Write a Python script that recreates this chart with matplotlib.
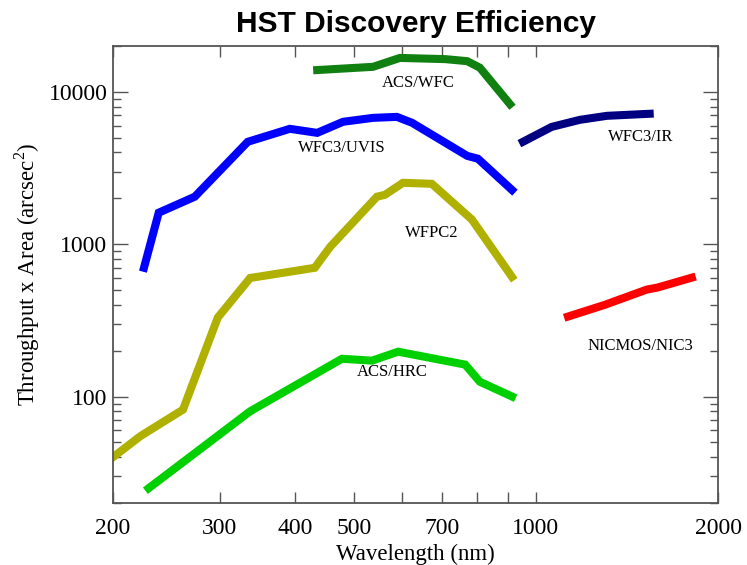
import matplotlib
matplotlib.use("Agg")
import matplotlib.pyplot as plt
from matplotlib.ticker import FixedLocator, FixedFormatter, LogLocator, NullFormatter

# Throughput x area curves (wavelength in nm, arcsec^2)
acs_wfc_wl = [435, 538, 596, 708, 770, 808, 906]
acs_wfc_val = [13900, 14600, 16700, 16400, 15900, 14400, 8300]

uvis_wl = [225, 238, 273, 334, 392, 435, 480, 538, 589, 624, 770, 802, 913]
uvis_val = [700, 1610, 2050, 4700, 5720, 5380, 6360, 6750, 6850, 6270, 3800, 3640, 2270]

wfpc2_wl = [200, 222, 261, 298, 337, 431, 457, 546, 563, 603, 673, 784, 913]
wfpc2_val = [40, 55, 82, 330, 600, 700, 960, 2050, 2110, 2530, 2490, 1450, 610]

hrc_wl = [229, 337, 478, 536, 592, 764, 808, 913]
hrc_val = [25, 80, 177, 172, 197, 162, 125, 100]

ir_wl = [952, 1062, 1182, 1310, 1542]
ir_val = [4700, 5890, 6550, 6960, 7180]

nic3_wl = [1130, 1300, 1526, 1588, 1810]
nic3_val = [335, 400, 504, 519, 603]

# label name, x, y
labels = [
    ("ACS/WFC", 639, 11500),
    ("WFC3/UVIS", 478, 4300),
    ("WFPC2", 673, 1190),
    ("ACS/HRC", 578, 144),
    ("WFC3/IR", 1489, 5070),
    ("NICMOS/NIC3", 1489, 216),
]

plt.rcParams["font.family"] = ["Liberation Serif", "DejaVu Serif"]
plt.rcParams["mathtext.fontset"] = "custom"
plt.rcParams["mathtext.rm"] = "Liberation Serif"

fig = plt.figure(figsize=(7.47, 5.65), dpi=100)
ax = fig.add_axes([0.1513, 0.1097, 0.8099, 0.8089])

lw = 5.8
ax.plot(acs_wfc_wl, acs_wfc_val, color="#108010", lw=lw, solid_joinstyle="miter")
ax.plot(uvis_wl, uvis_val, color="#0000ff", lw=lw, solid_joinstyle="miter")
ax.plot(wfpc2_wl, wfpc2_val, color="#b0b000", lw=lw, solid_joinstyle="miter")
ax.plot(hrc_wl, hrc_val, color="#00d000", lw=lw, solid_joinstyle="miter")
ax.plot(ir_wl, ir_val, color="#000080", lw=lw, solid_joinstyle="miter")
ax.plot(nic3_wl, nic3_val, color="#ff0000", lw=lw, solid_joinstyle="miter")

for name, x, y in labels:
    ax.text(x, y, name, fontsize=12, ha="center", va="center")

ax.set_xscale("log")
ax.set_yscale("log")
ax.set_xlim(200, 2000)
ax.set_ylim(20, 20000)

# x ticks every 100 nm up to 1000, plus 2000
xt = [200, 300, 400, 500, 600, 700, 800, 900, 1000, 2000]
xl = ["200", "300", "400", "500", "", "700", "", "", "1000", "2000"]
ax.xaxis.set_major_locator(FixedLocator(xt))
ax.xaxis.set_major_formatter(FixedFormatter(xl))
ax.xaxis.set_minor_locator(FixedLocator([]))

ax.yaxis.set_major_locator(FixedLocator([100, 1000, 10000]))
ax.yaxis.set_major_formatter(FixedFormatter(["100", "1000", "10000"]))
ax.yaxis.set_minor_locator(LogLocator(base=10, subs=range(2, 10)))
ax.yaxis.set_minor_formatter(NullFormatter())

ax.tick_params(axis="x", which="major", direction="in", length=8, width=1,
               top=True, labelsize=17, pad=11, color="#555555")
ax.tick_params(axis="y", which="major", direction="in", length=11, width=1,
               right=True, labelsize=17, pad=4, color="#555555")
ax.tick_params(axis="y", which="minor", direction="in", length=6, width=1,
               right=True, color="#555555")

for s in ax.spines.values():
    s.set_color("#555555")
    s.set_linewidth(1.3)

ax.set_xlabel("Wavelength (nm)", fontsize=16.5, labelpad=3)
ax.set_ylabel("Throughput x Area (arcsec$^2$)", fontsize=16.5, labelpad=5)

# title centred over the plot area
fig.text(0.1513 + 0.8099 / 2, 0.958, "HST Discovery Efficiency", ha="center",
         va="center", fontsize=21.5, fontweight="bold", family="Liberation Sans")

fig.savefig("out.png", dpi=100)
